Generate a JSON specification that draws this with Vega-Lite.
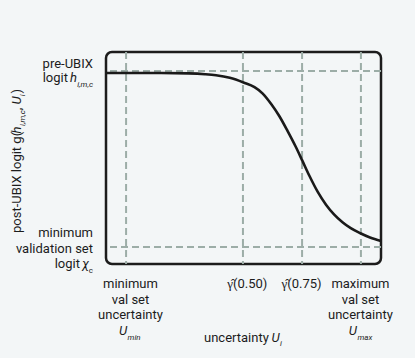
{
  "$schema": "https://vega.github.io/schema/vega-lite/v6.json",
  "width": 275,
  "height": 212,
  "autosize": {"type": "none"},
  "padding": {"left": 106, "top": 52, "right": 34, "bottom": 94},
  "background": "#f3f6f7",
  "config": {
    "view": {"stroke": "#1c1c1c", "strokeWidth": 2.5, "cornerRadius": 6, "fill": "#f3f6f7"},
    "text": {"font": "Roboto", "fontSize": 13, "color": "#1c1c1c"}
  },
  "layer": [
    {
      "data": {"values": [{"u": 7.3}, {"u": 49.8}, {"u": 71.3}, {"u": 92.7}]},
      "mark": {"type": "rule", "color": "#9cada7", "strokeWidth": 2, "strokeDash": [7, 4]},
      "encoding": {"x": {"field": "u", "type": "quantitative", "scale": {"domain": [0, 100], "nice": false, "zero": false}, "axis": null}}
    },
    {
      "data": {"values": [{"g": 91}, {"g": 8}]},
      "mark": {"type": "rule", "color": "#9cada7", "strokeWidth": 2, "strokeDash": [7, 4]},
      "encoding": {"y": {"field": "g", "type": "quantitative", "scale": {"domain": [0, 100], "nice": false, "zero": false}, "axis": null}}
    },
    {
      "data": {"values": [
        {"u": 0, "g": 90.1}, {"u": 10, "g": 90.1}, {"u": 20, "g": 90.1}, {"u": 30, "g": 89.9},
        {"u": 36, "g": 89.5}, {"u": 40, "g": 89.0}, {"u": 45, "g": 87.8}, {"u": 50, "g": 85.6},
        {"u": 54, "g": 83.4}, {"u": 57, "g": 80.4}, {"u": 60, "g": 75.6}, {"u": 63, "g": 69.8},
        {"u": 66, "g": 62.8}, {"u": 69, "g": 55.3}, {"u": 71.3, "g": 49.0}, {"u": 74, "g": 41.5},
        {"u": 77, "g": 34.0}, {"u": 80, "g": 28.0}, {"u": 83, "g": 23.3}, {"u": 86, "g": 19.7},
        {"u": 89, "g": 16.9}, {"u": 92.5, "g": 14.5}, {"u": 96, "g": 12.5}, {"u": 100, "g": 10.9}
      ]},
      "mark": {"type": "line", "color": "#1a1a1a", "strokeWidth": 2.6, "interpolate": "monotone"},
      "encoding": {
        "x": {"field": "u", "type": "quantitative", "scale": {"domain": [0, 100], "nice": false, "zero": false},
              "axis": {"values": [7.3, 49.8, 71.3, 92.7], "labels": false, "title": null, "domain": false, "grid": false, "tickSize": 6, "tickWidth": 2.5, "tickColor": "#1c1c1c"}},
        "y": {"field": "g", "type": "quantitative", "scale": {"domain": [0, 100], "nice": false, "zero": false},
              "axis": {"values": [91, 8], "labels": false, "title": null, "domain": false, "grid": false, "tickSize": 6, "tickWidth": 2.5, "tickColor": "#1c1c1c"}}
      }
    },
    {
      "data": {"values": [{"t": "pre-UBIX"}]},
      "mark": {"type": "text", "align": "right", "baseline": "alphabetic", "dx": -13, "dy": -3},
      "encoding": {"x": {"datum": 0, "type": "quantitative"}, "y": {"datum": 91, "type": "quantitative"}, "text": {"field": "t"}}
    },
    {
      "data": {"values": [{"t": "logit"}]},
      "mark": {"type": "text", "align": "right", "baseline": "alphabetic", "dx": -38, "dy": 11},
      "encoding": {"x": {"datum": 0, "type": "quantitative"}, "y": {"datum": 91, "type": "quantitative"}, "text": {"field": "t"}}
    },
    {
      "data": {"values": [{"t": "h"}]},
      "mark": {"type": "text", "align": "right", "baseline": "alphabetic", "fontStyle": "italic", "dx": -29, "dy": 11},
      "encoding": {"x": {"datum": 0, "type": "quantitative"}, "y": {"datum": 91, "type": "quantitative"}, "text": {"field": "t"}}
    },
    {
      "data": {"values": [{"t": "i,m,c"}]},
      "mark": {"type": "text", "align": "right", "baseline": "alphabetic", "fontStyle": "italic", "fontSize": 8, "dx": -13, "dy": 15.5},
      "encoding": {"x": {"datum": 0, "type": "quantitative"}, "y": {"datum": 91, "type": "quantitative"}, "text": {"field": "t"}}
    },
    {
      "data": {"values": [{"t": "minimum\nvalidation set"}]},
      "mark": {"type": "text", "align": "right", "baseline": "alphabetic", "lineBreak": "\n", "lineHeight": 15.5, "dx": -13, "dy": -10},
      "encoding": {"x": {"datum": 0, "type": "quantitative"}, "y": {"datum": 8, "type": "quantitative"}, "text": {"field": "t"}}
    },
    {
      "data": {"values": [{"t": "logit"}]},
      "mark": {"type": "text", "align": "right", "baseline": "alphabetic", "dx": -26, "dy": 21},
      "encoding": {"x": {"datum": 0, "type": "quantitative"}, "y": {"datum": 8, "type": "quantitative"}, "text": {"field": "t"}}
    },
    {
      "data": {"values": [{"t": "χ"}]},
      "mark": {"type": "text", "align": "right", "baseline": "alphabetic", "fontStyle": "italic", "dx": -17, "dy": 21},
      "encoding": {"x": {"datum": 0, "type": "quantitative"}, "y": {"datum": 8, "type": "quantitative"}, "text": {"field": "t"}}
    },
    {
      "data": {"values": [{"t": "c"}]},
      "mark": {"type": "text", "align": "right", "baseline": "alphabetic", "fontSize": 8, "dx": -13, "dy": 25.5},
      "encoding": {"x": {"datum": 0, "type": "quantitative"}, "y": {"datum": 8, "type": "quantitative"}, "text": {"field": "t"}}
    },
    {
      "data": {"values": [{"u": 7.3, "t": "minimum\nval set\nuncertainty"}, {"u": 49.8, "t": "γ̂(0.50)"}]},
      "mark": {"type": "text", "align": "center", "baseline": "alphabetic", "lineBreak": "\n", "lineHeight": 15.7, "dx": 4.4, "dy": 24},
      "encoding": {"x": {"field": "u", "type": "quantitative"}, "y": {"datum": 0, "type": "quantitative"}, "text": {"field": "t"}}
    },
    {
      "data": {"values": [{"u": 71.3, "t": "γ̂(0.75)"}, {"u": 92.7, "t": "maximum\nval set\nuncertainty"}]},
      "mark": {"type": "text", "align": "center", "baseline": "alphabetic", "lineBreak": "\n", "lineHeight": 15.7, "dx": -0.5, "dy": 24},
      "encoding": {"x": {"field": "u", "type": "quantitative"}, "y": {"datum": 0, "type": "quantitative"}, "text": {"field": "t"}}
    },
    {
      "data": {"values": [{"u": 7.3, "t": "U"}]},
      "mark": {"type": "text", "align": "right", "baseline": "alphabetic", "fontStyle": "italic", "dx": 1, "dy": 71},
      "encoding": {"x": {"field": "u", "type": "quantitative"}, "y": {"datum": 0, "type": "quantitative"}, "text": {"field": "t"}}
    },
    {
      "data": {"values": [{"u": 7.3, "t": "min"}]},
      "mark": {"type": "text", "align": "left", "baseline": "alphabetic", "fontStyle": "italic", "fontSize": 8, "dx": 1.5, "dy": 76},
      "encoding": {"x": {"field": "u", "type": "quantitative"}, "y": {"datum": 0, "type": "quantitative"}, "text": {"field": "t"}}
    },
    {
      "data": {"values": [{"u": 92.7, "t": "U"}]},
      "mark": {"type": "text", "align": "right", "baseline": "alphabetic", "fontStyle": "italic", "dx": -4, "dy": 71},
      "encoding": {"x": {"field": "u", "type": "quantitative"}, "y": {"datum": 0, "type": "quantitative"}, "text": {"field": "t"}}
    },
    {
      "data": {"values": [{"u": 92.7, "t": "max"}]},
      "mark": {"type": "text", "align": "left", "baseline": "alphabetic", "fontStyle": "italic", "fontSize": 8, "dx": -3.5, "dy": 76},
      "encoding": {"x": {"field": "u", "type": "quantitative"}, "y": {"datum": 0, "type": "quantitative"}, "text": {"field": "t"}}
    },
    {
      "data": {"values": [{"t": "uncertainty"}]},
      "mark": {"type": "text", "align": "left", "baseline": "alphabetic", "dx": -39.5, "dy": 78},
      "encoding": {"x": {"datum": 50, "type": "quantitative"}, "y": {"datum": 0, "type": "quantitative"}, "text": {"field": "t"}}
    },
    {
      "data": {"values": [{"t": "U"}]},
      "mark": {"type": "text", "align": "left", "baseline": "alphabetic", "fontStyle": "italic", "dx": 28, "dy": 78},
      "encoding": {"x": {"datum": 50, "type": "quantitative"}, "y": {"datum": 0, "type": "quantitative"}, "text": {"field": "t"}}
    },
    {
      "data": {"values": [{"t": "i"}]},
      "mark": {"type": "text", "align": "left", "baseline": "alphabetic", "fontStyle": "italic", "fontSize": 8, "dx": 36.5, "dy": 81.5},
      "encoding": {"x": {"datum": 50, "type": "quantitative"}, "y": {"datum": 0, "type": "quantitative"}, "text": {"field": "t"}}
    },
    {
      "data": {"values": [{"t": "post-UBIX logit g("}]},
      "mark": {"type": "text", "align": "left", "baseline": "alphabetic", "angle": 270, "dx": 31, "dy": -85},
      "encoding": {"x": {"datum": 0, "type": "quantitative"}, "y": {"datum": 0, "type": "quantitative"}, "text": {"field": "t"}}
    },
    {
      "data": {"values": [{"t": "h"}]},
      "mark": {"type": "text", "align": "left", "baseline": "alphabetic", "angle": 270, "fontStyle": "italic", "dx": 130.5, "dy": -85},
      "encoding": {"x": {"datum": 0, "type": "quantitative"}, "y": {"datum": 0, "type": "quantitative"}, "text": {"field": "t"}}
    },
    {
      "data": {"values": [{"t": "i,m,c"}]},
      "mark": {"type": "text", "align": "left", "baseline": "alphabetic", "angle": 270, "fontStyle": "italic", "fontSize": 8, "dx": 138, "dy": -81},
      "encoding": {"x": {"datum": 0, "type": "quantitative"}, "y": {"datum": 0, "type": "quantitative"}, "text": {"field": "t"}}
    },
    {
      "data": {"values": [{"t": ","}]},
      "mark": {"type": "text", "align": "left", "baseline": "alphabetic", "angle": 270, "dx": 153.7, "dy": -85},
      "encoding": {"x": {"datum": 0, "type": "quantitative"}, "y": {"datum": 0, "type": "quantitative"}, "text": {"field": "t"}}
    },
    {
      "data": {"values": [{"t": "U"}]},
      "mark": {"type": "text", "align": "left", "baseline": "alphabetic", "angle": 270, "fontStyle": "italic", "dx": 159.4, "dy": -85},
      "encoding": {"x": {"datum": 0, "type": "quantitative"}, "y": {"datum": 0, "type": "quantitative"}, "text": {"field": "t"}}
    },
    {
      "data": {"values": [{"t": "i"}]},
      "mark": {"type": "text", "align": "left", "baseline": "alphabetic", "angle": 270, "fontStyle": "italic", "fontSize": 8, "dx": 167.7, "dy": -81},
      "encoding": {"x": {"datum": 0, "type": "quantitative"}, "y": {"datum": 0, "type": "quantitative"}, "text": {"field": "t"}}
    },
    {
      "data": {"values": [{"t": ")"}]},
      "mark": {"type": "text", "align": "left", "baseline": "alphabetic", "angle": 270, "dx": 170.5, "dy": -85},
      "encoding": {"x": {"datum": 0, "type": "quantitative"}, "y": {"datum": 0, "type": "quantitative"}, "text": {"field": "t"}}
    }
  ]
}
